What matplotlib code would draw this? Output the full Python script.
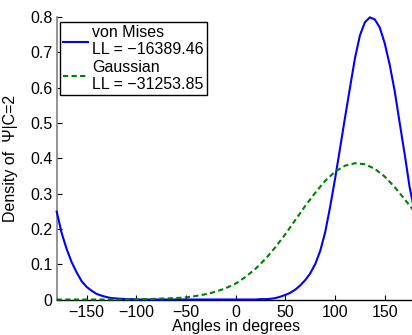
import matplotlib
matplotlib.use("Agg")
import matplotlib.pyplot as plt

plt.rcParams['font.family'] = ['Liberation Sans', 'DejaVu Sans']

# values
vm_angles = list(range(-180, 185, 5))
vm_density = (
    # -180 .. -105
    [0.249, 0.188, 0.143, 0.106, 0.077, 0.052, 0.036, 0.025,
     0.016, 0.011, 0.007, 0.004, 0.003, 0.002, 0.001, 0.001]
    # -100 .. 20
    + [0.0] * 25
    # 25 .. 180
    + [0.001, 0.001, 0.002, 0.004, 0.008, 0.013, 0.019, 0.028,
       0.040, 0.055, 0.074, 0.100, 0.137, 0.190, 0.262, 0.342,
       0.428, 0.515, 0.600, 0.683, 0.748, 0.785, 0.799, 0.793,
       0.770, 0.725, 0.664, 0.590, 0.500, 0.412, 0.318, 0.249]
)

gauss_angles = list(range(-180, 190, 10))
gauss_density = [0.0, 0.0, 0.0, 0.0, 0.0, 0.0, 0.0, 0.0, 0.001, 0.001,
                 0.002, 0.003, 0.004, 0.006, 0.010, 0.015, 0.022, 0.032, 0.045, 0.064,
                 0.087, 0.115, 0.148, 0.185, 0.225, 0.265, 0.302, 0.336, 0.362, 0.379,
                 0.386, 0.383, 0.370, 0.348, 0.318, 0.284, 0.248]

labels = ['von Mises\nLL = \u221216389.46', 'Gaussian\nLL = \u221231253.85']
xticks = [-150, -100, -50, 0, 50, 100, 150]
xticklabels = ['\u2212150', '\u2212100', '\u221250', '0', '50', '100', '150']
yticks = [0, 0.1, 0.2, 0.3, 0.4, 0.5, 0.6, 0.7, 0.8]
yticklabels = ['0', '0.1', '0.2', '0.3', '0.4', '0.5', '0.6', '0.7', '0.8']

fig = plt.figure(figsize=(4.12, 3.35), dpi=100)
# the original picture is cut off on the right, so the axes run past the edge
ax = fig.add_axes([56.7 / 412, 35.5 / 335, 357.9 / 412, 282.5 / 335])

ax.plot(vm_angles, vm_density, color='#0000ff', lw=1.5, label=labels[0],
        zorder=3, clip_on=False)
ax.plot(gauss_angles, gauss_density, color='#008000', lw=1.5, ls=(0, (2.5, 1.6)),
        label=labels[1], zorder=3, clip_on=False)

ax.set_xlim(-180, 180)
ax.set_ylim(0, 0.8)
ax.set_xticks(xticks)
ax.set_xticklabels(xticklabels)
ax.set_yticks(yticks)
ax.set_yticklabels(yticklabels)
ax.tick_params(direction='in', length=3.5, width=0.8, labelsize=11.5, colors='black')
ax.tick_params(axis='x', pad=4)
ax.tick_params(axis='y', pad=3)

ax.spines['top'].set_visible(False)
ax.spines['right'].set_visible(False)
ax.spines['left'].set_color('#808080')
ax.spines['left'].set_linewidth(1.2)
ax.spines['bottom'].set_linewidth(1.0)

ax.set_xlabel('Angles in degrees', fontsize=11.5, va='baseline')
ax.xaxis.set_label_coords(0.5, -0.1115)
ax.set_ylabel('Density of  \u03a8|C=2', fontsize=11.5)
ax.yaxis.set_label_coords(-0.108, 0.5)

leg = ax.legend(loc='upper left', bbox_to_anchor=(0.0092, 0.983), borderaxespad=0,
                fontsize=11.5, frameon=True, fancybox=False, framealpha=1,
                edgecolor='black', handlelength=1.55, handletextpad=0.25,
                borderpad=0.2, labelspacing=0.15)
leg.get_frame().set_linewidth(1.0)

fig.savefig('out.png', dpi=100)
